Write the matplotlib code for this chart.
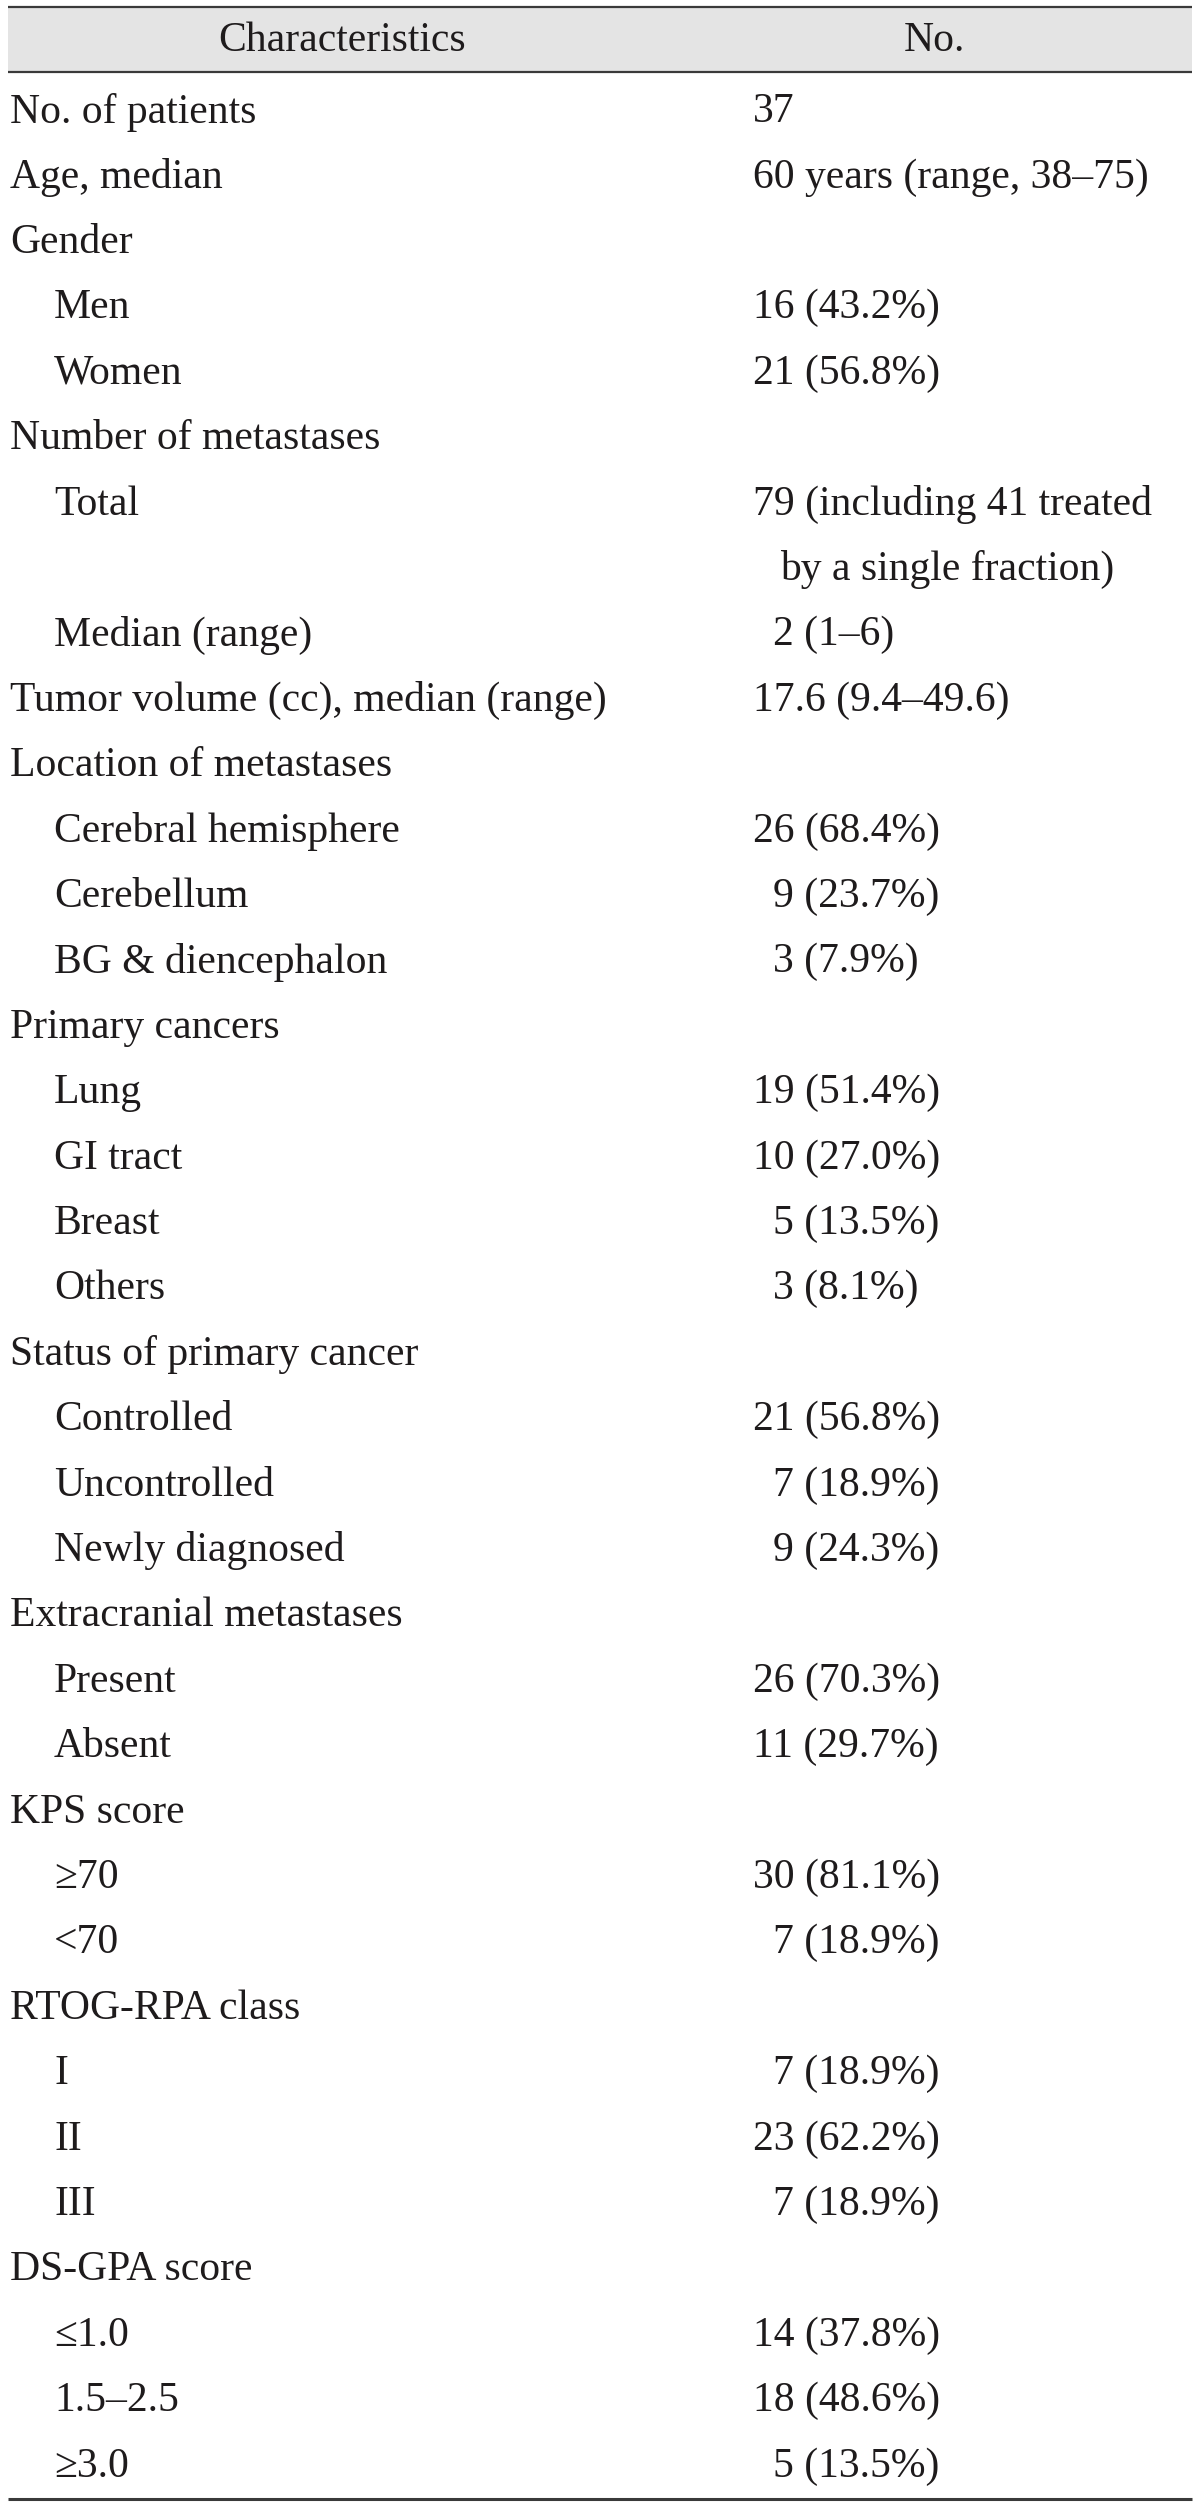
import re
import matplotlib
matplotlib.use("Agg")
import matplotlib.pyplot as plt
from matplotlib.patches import Rectangle

# ---- data ----
header = ["Characteristics", "No."]
labels = ["No. of patients", "Age, median", "Gender", "Men", "Women",
          "Number of metastases", "Total", "Median (range)",
          "Tumor volume (cc), median (range)", "Location of metastases",
          "Cerebral hemisphere", "Cerebellum", "BG & diencephalon",
          "Primary cancers", "Lung", "GI tract", "Breast", "Others",
          "Status of primary cancer", "Controlled", "Uncontrolled",
          "Newly diagnosed", "Extracranial metastases", "Present", "Absent",
          "KPS score", "≥70", "<70", "RTOG-RPA class", "I", "II", "III",
          "DS-GPA score", "≤1.0", "1.5–2.5", "≥3.0"]
levels = [0, 0, 0, 1, 1, 0, 1, 1, 0, 0, 1, 1, 1, 0, 1, 1, 1, 1, 0, 1, 1, 1,
          0, 1, 1, 0, 1, 1, 0, 1, 1, 1, 0, 1, 1, 1]
values = ["37", "60 years (range, 38–75)", "", "16 (43.2%)", "21 (56.8%)", "",
          "79 (including 41 treated\nby a single fraction)", "2 (1–6)",
          "17.6 (9.4–49.6)", "", "26 (68.4%)", "9 (23.7%)", "3 (7.9%)", "",
          "19 (51.4%)", "10 (27.0%)", "5 (13.5%)", "3 (8.1%)", "",
          "21 (56.8%)", "7 (18.9%)", "9 (24.3%)", "", "26 (70.3%)",
          "11 (29.7%)", "", "30 (81.1%)", "7 (18.9%)", "", "7 (18.9%)",
          "23 (62.2%)", "7 (18.9%)", "", "14 (37.8%)", "18 (48.6%)",
          "5 (13.5%)"]

# ---- style ----
W, H = 1200, 2507
FONT = "Liberation Serif"
FS = 30
TXT = "#1e1b1c"

fig = plt.figure(figsize=(W / 100, H / 100), dpi=100)
ax = fig.add_axes([0, 0, 1, 1])
ax.set_xlim(0, W)
ax.set_ylim(H, 0)
ax.axis("off")

x0, x1 = 8, 1192
top_rule, head_rule, bottom_rule = 7, 72, 2499
first_row, pitch = 112, 65.4
col1_x, indent_x = 10, 54
col2_x, digit_w = 753, 20

# header band
ax.add_patch(Rectangle((x0, top_rule), x1 - x0, head_rule - top_rule,
                       facecolor="#e4e4e4", edgecolor="none", zorder=0))
ax.plot([x0, x1], [top_rule, top_rule], color="#3a3a3a", lw=1.6, solid_capstyle="butt")
ax.plot([x0, x1], [head_rule, head_rule], color="#3a3a3a", lw=1.6, solid_capstyle="butt")
ax.plot([x0, x1], [bottom_rule, bottom_rule], color="#3a3a3a", lw=2.2, solid_capstyle="butt")

hy = (top_rule + head_rule) / 2 + 1
ax.text(342, hy, header[0], fontsize=FS, family=FONT, color=TXT, ha="center", va="center")
ax.text(934, hy, header[1], fontsize=FS, family=FONT, color=TXT, ha="center", va="center")

slot = 0
for lab, lev, val in zip(labels, levels, values):
    y = first_row + slot * pitch
    ax.text(indent_x if lev else col1_x, y, lab, fontsize=FS, family=FONT,
            color=TXT, ha="left", va="center")
    lines = val.split("\n") if val else []
    for i, line in enumerate(lines):
        xv = col2_x
        if i > 0 or re.match(r"^\d\D", line):
            xv += digit_w if i == 0 else 27
        ax.text(xv, y + i * pitch, line, fontsize=FS, family=FONT,
                color=TXT, ha="left", va="center")
    slot += max(1, len(lines))

fig.savefig("out.png", dpi=100, facecolor="white")
